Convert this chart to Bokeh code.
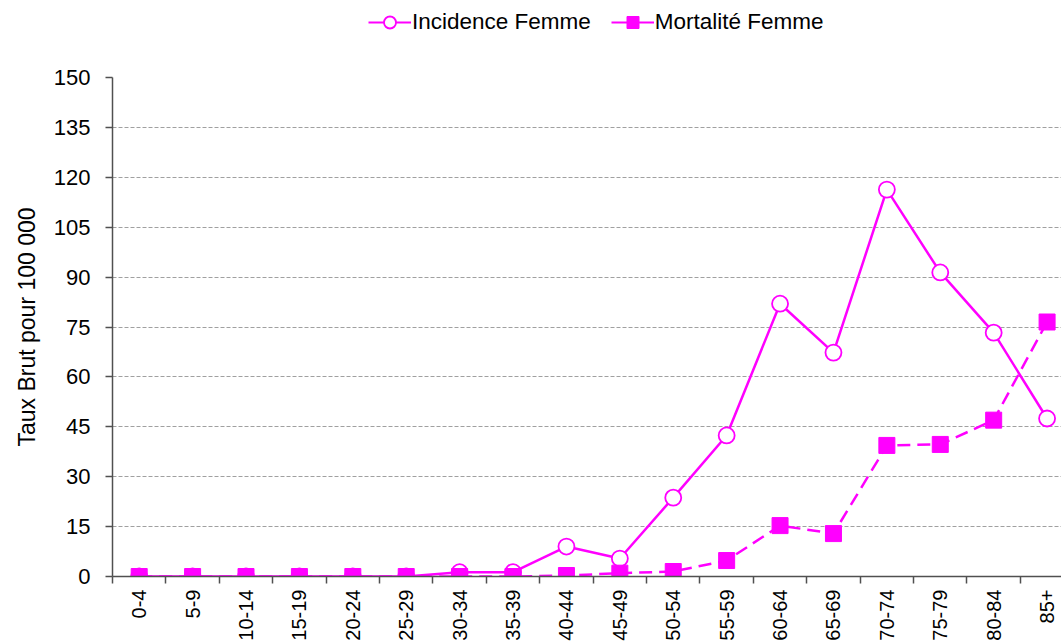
from bokeh.plotting import figure
from bokeh.models import Range1d, FixedTicker, Legend, LegendItem
from bokeh.layouts import column
from bokeh.embed import file_html
from bokeh.resources import INLINE
import math

age_groups = ["0-4", "5-9", "10-14", "15-19", "20-24", "25-29", "30-34", "35-39",
              "40-44", "45-49", "50-54", "55-59", "60-64", "65-69", "70-74",
              "75-79", "80-84", "85+"]
incidence_femme = [0, 0, 0, 0, 0, 0, 1.3, 1.3, 9.0, 5.4, 23.7, 42.4, 82.0, 67.3,
                   116.3, 91.4, 73.3, 47.5]
mortalite_femme = [0, 0, 0, 0, 0, 0, 0, 0, 0.3, 1.0, 1.5, 4.8, 15.3, 12.9,
                   39.4, 39.7, 47.0, 76.5]
y_ticks = list(range(0, 151, 15))
series_labels = ["Incidence Femme", "Mortalité Femme"]

MAG = "#FF00FF"
FONT = "Liberation Sans"
AX = "#505050"

xs = list(range(len(age_groups)))

line_styles = [dict(line_color=MAG, line_width=2.5),
               dict(line_color=MAG, line_width=2.5, line_dash="13 7")]
legend_line_styles = [dict(line_color=MAG, line_width=2),
                      dict(line_color=MAG, line_width=2)]
marker_styles = [dict(marker="circle", size=16, fill_color="white", line_color=MAG, line_width=1.8),
                 dict(marker="square", size=16, fill_color=MAG, line_color=MAG)]

# ---------- main chart ----------
p = figure(width=1061, height=584, output_backend="svg", toolbar_location=None,
           x_range=Range1d(-0.5, 17.27), y_range=Range1d(0, 150),
           min_border_left=112, min_border_right=0, min_border_top=17,
           min_border_bottom=68)
p.outline_line_color = None

xa = p.xaxis[0]
xa.ticker = FixedTicker(ticks=xs, minor_ticks=[i - 0.5 for i in range(len(age_groups) + 1)])
xa.major_label_overrides = {i: g for i, g in enumerate(age_groups)}
xa.major_label_orientation = math.pi / 2
xa.major_tick_line_color = None
xa.major_tick_out = 7
xa.major_tick_in = 0
xa.minor_tick_out = 7
xa.minor_tick_in = 0
xa.minor_tick_line_color = AX
xa.minor_tick_line_width = 1.5
xa.axis_line_color = AX
xa.axis_line_width = 1.5
xa.major_label_standoff = 6
xa.major_label_text_font = FONT
xa.major_label_text_font_size = "20px"
xa.major_label_text_color = "black"

ya = p.yaxis[0]
ya.ticker = FixedTicker(ticks=y_ticks)
ya.major_tick_out = 7
ya.major_tick_in = 0
ya.minor_tick_line_color = None
ya.major_tick_line_color = AX
ya.major_tick_line_width = 1.5
ya.axis_line_color = AX
ya.axis_line_width = 1.5
ya.major_label_standoff = 15
ya.major_label_text_font = FONT
ya.major_label_text_font_size = "22px"
ya.major_label_text_color = "black"
ya.axis_label = "Taux Brut pour 100 000"
ya.axis_label_text_font = FONT
ya.axis_label_text_font_size = "23px"
ya.axis_label_text_font_style = "normal"
ya.axis_label_text_color = "black"
ya.axis_label_standoff = 11

p.xgrid.grid_line_color = None
p.ygrid.ticker = FixedTicker(ticks=y_ticks[1:])
p.ygrid.grid_line_color = "#a0a0a0"
p.ygrid.grid_line_dash = "4 2"
p.ygrid.grid_line_width = 1

for ys, ls, ms in zip([incidence_femme, mortalite_femme], line_styles, marker_styles):
    p.line(xs, ys, **ls)
    p.scatter(xs, ys, **ms)

# ---------- legend strip (aligned to the chart frame by the column layout) ----------
lg = figure(width=1061, height=60, output_backend="svg", toolbar_location=None,
            x_range=Range1d(0, 1), y_range=Range1d(0, 1),
            x_axis_location=None, y_axis_location=None,
            min_border_left=0, min_border_right=0, min_border_top=0, min_border_bottom=0)
lg.outline_line_color = None
lg.xgrid.grid_line_color = None
lg.ygrid.grid_line_color = None

nan = float("nan")
items = []
for lab, ls, ms in zip(series_labels, legend_line_styles, marker_styles):
    r1 = lg.line([nan], [nan], **ls)
    r2 = lg.scatter([nan], [nan], **ms)
    items.append(LegendItem(label=lab, renderers=[r1, r2]))

legend = Legend(items=items, orientation="horizontal", location=(256, 23),
                padding=0, margin=0, spacing=20, glyph_width=43, glyph_height=30,
                label_standoff=1, label_text_font=FONT, label_text_font_size="22.5px",
                label_text_color="black", border_line_color=None,
                background_fill_alpha=0)
lg.add_layout(legend, "center")

layout = column(lg, p, spacing=0)
open("out.html", "w").write(file_html(layout, INLINE))
